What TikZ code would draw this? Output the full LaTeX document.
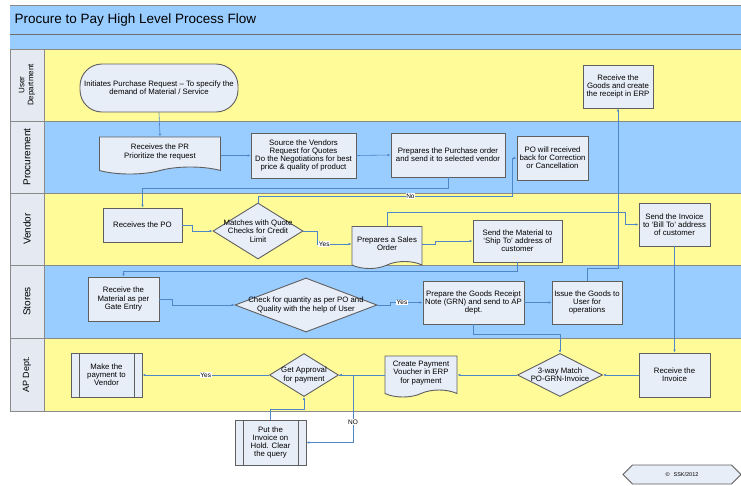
\documentclass[tikz,border=0pt]{standalone}
\usepackage{fontspec}
\setmainfont{Liberation Sans}
\usetikzlibrary{calc, shapes.geometric, shapes.symbols, arrows.meta, positioning}
\definecolor{laneyellow}{HTML}{FFFB99}
\definecolor{laneblue}{HTML}{99CCFF}
\definecolor{headblue}{HTML}{99CCFF}
\definecolor{lanelabel}{HTML}{E4E9F2}
\definecolor{stepfill}{HTML}{E8EEF8}
\definecolor{stepedge}{HTML}{5F5F5F}
\definecolor{flowblue}{HTML}{4F86C6}
\definecolor{laneedge}{HTML}{8A8A8A}

\begin{document}
\begin{tikzpicture}[
        x=1pt, y=-1pt,
        box/.style = {draw=stepedge, fill=stepfill, line width=0.9pt, align=center, inner sep=1pt, font=\fontsize{7.8}{8.2}\selectfont},
        termbox/.style = {box, rectangle, rounded corners=22pt},
        docbox/.style = {box, tape, tape bend top=none, tape bend height=7pt},
        decibox/.style = {box, diamond, inner sep=-3pt, aspect=#1},
        procbox/.style = {box, rectangle, path picture={
                \draw[stepedge, line width=0.9pt]
                    ([xshift=8pt]path picture bounding box.north west) -- ([xshift=8pt]path picture bounding box.south west)
                    ([xshift=-8pt]path picture bounding box.north east) -- ([xshift=-8pt]path picture bounding box.south east);}},
        lanetitle/.style = {rotate=90, align=center, font=\fontsize{10}{11}\selectfont},
        flow/.style = {draw=flowblue, line width=0.6pt, -{Latex[length=3pt, width=2.6pt]}},
        lbl/.style = {fill=white, inner sep=0.6pt, font=\fontsize{6.5}{7}\selectfont}
    ]
        \useasboundingbox (0,0) rectangle (741,485);

        % Header bands
        \fill[headblue] (10,5) rectangle (741,49);
        \draw[laneedge, line width=1pt] (10,5) -- (741,5);
        \draw[laneedge!80!black, line width=1pt] (10,34) -- (741,34);

        % Swim lanes
        \filldraw[fill=laneyellow, draw=laneedge, line width=0.8pt] (10,49) rectangle (741,121);
        \filldraw[fill=laneblue, draw=laneedge, line width=0.8pt] (10,121) rectangle (741,193);
        \filldraw[fill=laneyellow, draw=laneedge, line width=0.8pt] (10,193) rectangle (741,265);
        \filldraw[fill=laneblue, draw=laneedge, line width=0.8pt] (10,265) rectangle (741,338);
        \filldraw[fill=laneyellow, draw=laneedge, line width=0.8pt] (10,338) rectangle (741,411);
        \filldraw[fill=lanelabel, draw=laneedge, line width=0.8pt] (10,49) rectangle (44,121);
        \filldraw[fill=lanelabel, draw=laneedge, line width=0.8pt] (10,121) rectangle (44,193);
        \filldraw[fill=lanelabel, draw=laneedge, line width=0.8pt] (10,193) rectangle (44,265);
        \filldraw[fill=lanelabel, draw=laneedge, line width=0.8pt] (10,265) rectangle (44,338);
        \filldraw[fill=lanelabel, draw=laneedge, line width=0.8pt] (10,338) rectangle (44,411);

        % Title and lane names
        \node (title) [anchor=west, font=\fontsize{13.5}{15}\selectfont] at (11,20) {Procure to Pay High Level Process Flow};
        \node (userlane) [lanetitle, font=\fontsize{8}{9}\selectfont] at (27,85) {User\\Department};
        \node (proclane) [lanetitle] at (27,157) {Procurement};
        \node (vendlane) [lanetitle] at (27,229) {Vendor};
        \node (storelane) [lanetitle] at (27,301.5) {Stores};
        \node (aplane) [lanetitle, font=\fontsize{9}{10}\selectfont] at (27,374.5) {AP Dept.};

        % User Department
        \node (initpr) [termbox, minimum width=158pt, minimum height=48pt] at (159,88) {Initiates Purchase Request -- To specify the\\demand of Material / Service};
        \node (rgoods) [box, minimum width=70pt, minimum height=43pt] at (618,86.5) {Receive the\\Goods and create\\the receipt in ERP};

        % Procurement
        \node (rpr) [docbox, minimum width=121pt, minimum height=37pt] at (160,152) {Receives the PR\\Prioritize the request};
        \node (source) [box, minimum width=105pt, minimum height=45pt] at (303.5,155.5) {Source the Vendors\\Request for Quotes\\Do the Negotiations for best\\price \& quality of product};
        \node (prepo) [box, minimum width=114pt, minimum height=44pt] at (448,155) {Prepares the Purchase order\\and send it to selected vendor};
        \node (poback) [box, minimum width=71pt, minimum height=44pt] at (552.5,158) {PO will received\\back for Correction\\or Cancellation};

        % Vendor
        \node (rpo) [box, minimum width=79pt, minimum height=34pt] at (142.5,225) {Receives the PO};
        \node (match) [decibox=1.6, minimum width=90pt, minimum height=56pt] at (258,231) {Matches with Quote\\Checks for Credit\\Limit};
        \node (sales) [docbox, minimum width=70pt, minimum height=42pt] at (387,244) {Prepares a Sales\\Order};
        \node (sendmat) [box, minimum width=89pt, minimum height=42pt] at (517.5,241) {Send the Material to\\`Ship To' address of\\customer};
        \node (sendinv) [box, minimum width=71pt, minimum height=43pt] at (674.5,224.5) {Send the Invoice\\to `Bill To' address\\of customer};

        % Stores
        \node (rmat) [box, minimum width=71pt, minimum height=44pt] at (123.5,299) {Receive the\\Material as per\\Gate Entry};
        \node (check) [decibox=2.6, minimum width=142pt, minimum height=54pt] at (306,305) {Check for quantity as per PO and\\Quality with the help of User};
        \node (grn) [box, minimum width=101pt, minimum height=43pt] at (473.5,302.5) {Prepare the Goods Receipt\\Note (GRN) and send to AP\\dept.};
        \node (issue) [box, minimum width=70pt, minimum height=43pt] at (587,302.5) {Issue the Goods to\\User for\\operations};

        % AP Dept.
        \node (pay) [procbox, minimum width=71pt, minimum height=44pt] at (106.5,375) {Make the\\payment to\\Vendor};
        \node (approve) [decibox=1.6, minimum width=69pt, minimum height=43pt] at (304,375) {Get Approval\\for payment};
        \node (voucher) [docbox, minimum width=72pt, minimum height=41pt] at (421,373) {Create Payment\\Voucher in ERP\\for payment};
        \node (match3) [decibox=2, minimum width=85pt, minimum height=43pt] at (560,375) {3-way Match\\PO-GRN-Invoice};
        \node (rinv) [box, minimum width=71pt, minimum height=44pt] at (674.5,375) {Receive the\\Invoice};
        \node (hold) [procbox, minimum width=71pt, minimum height=45pt] at (270.5,442.5) {Put the\\Invoice on\\Hold. Clear\\the query};

        \node (copyr) [box, signal, signal to=west and east, minimum width=118pt, minimum height=19pt, font=\fontsize{5.5}{6}\selectfont] at (682,474.5) {©\hspace{4pt}SSK/2012};

        % Connections
        \coordinate (nojog) at (512,196);
        \coordinate (invjog) at (625,212);
        \draw [flow] (initpr.south) -- (rpr.north);
        \draw [flow] (rpr.east |- source.west) -- (source.west);
        \draw [flow] (source.east) -- (prepo.west);
        \draw [flow] (prepo.south) -- ++(0,11) -| (rpo.north);
        \draw [flow] (rpo.east) -- ++(10,0) |- (match.west);
        \draw [flow] (match.east) -- ++(14,0) |- node[lbl, pos=0.6] {Yes} (sales.west);
        \draw [flow] (match.north) |- node[lbl, pos=0.8] {No} (nojog) |- (poback.west);
        \draw [flow] (sales.north) |- (invjog) |- (sendinv.west);
        \draw [flow] (sales.east) -- ++(13,0) |- (sendmat.west);
        \draw [flow] (sendmat.south) -- ++(0,9) -| (rmat.north);
        \draw [flow] (rmat.east) -- ++(13,0) |- (check.west);
        \draw [flow] (check.east) -- ++(13,0) |- node[lbl, pos=0.68] {Yes} (grn.west);
        \draw [flow] (grn.east) -- (issue.west);
        \draw [flow] (issue.north) -- ++(0,-12) -| (rgoods.south);
        \draw [flow] (grn.south) -- ++(0,10) -| (match3.north);
        \draw [flow] (sendinv.south) -- (rinv.north);
        \draw [flow] (rinv.west) -- (match3.east);
        \draw [flow] (match3.west) -- (match3.west -| voucher.east);
        \draw [flow] (approve.east -| voucher.west) -- (approve.east);
        \draw [flow] (approve.west) -- node[lbl] {Yes} (pay.east);
        \draw [flow] (approve.east) -- ++(14,0) |- node[lbl, pos=0.35] {NO} (hold.east);
        \draw [flow] (hold.north) -- ++(0,-10) -| (approve.south);

    \end{tikzpicture}
\end{document}
